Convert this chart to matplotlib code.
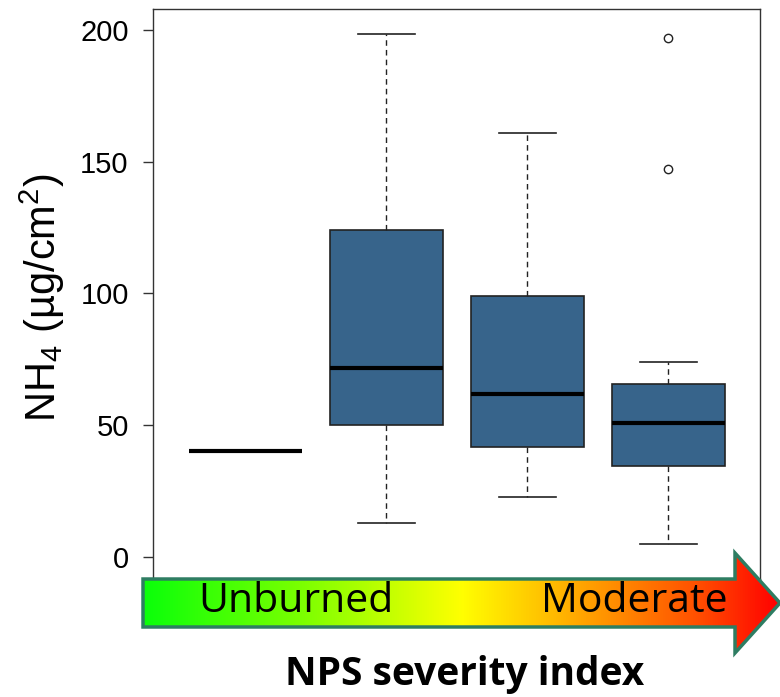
import matplotlib.pyplot as plt
import numpy as np
from matplotlib.colors import LinearSegmentedColormap
from matplotlib.patches import Polygon

plt.rcParams['mathtext.fontset'] = 'custom'
plt.rcParams['mathtext.rm'] = 'Liberation Sans'
plt.rcParams['mathtext.it'] = 'Liberation Sans:italic'

# Box statistics (NH4, ug/cm2)
positions = [1, 2, 3, 4]
whislo = [40, 12.7, 22.8, 4.9]
q1 = [40, 50.0, 41.7, 34.5]
med = [40, 71.5, 61.6, 50.7]
q3 = [40, 124.2, 98.8, 65.6]
whishi = [40, 198.5, 160.7, 73.9]
fliers = [[], [], [], [147.0, 196.8]]
yticks = [0, 50, 100, 150, 200]

fig = plt.figure(figsize=(7.8, 6.97), dpi=100)
W, H = 780, 697
ax = fig.add_axes([153 / W, 1 - 579 / H, (760 - 153) / W, (579 - 9) / H])

stats = []
for i in range(len(positions)):
    stats.append(dict(whislo=whislo[i], q1=q1[i], med=med[i], q3=q3[i],
                      whishi=whishi[i], fliers=fliers[i]))

ax.bxp(stats, positions=positions, widths=0.8, patch_artist=True,
       boxprops=dict(facecolor='#37648b', edgecolor='#222222', linewidth=1.2),
       medianprops=dict(color='black', linewidth=3),
       whiskerprops=dict(color='#222222', linestyle=(0, (4, 3)), linewidth=1),
       capprops=dict(color='#222222', linewidth=1.2),
       capwidths=0.4,
       flierprops=dict(marker='o', markerfacecolor='white', markeredgecolor='#222222',
                       markersize=6, markeredgewidth=1))

ax.set_xlim(1 - 0.656, 4 + 0.65)
ax.set_ylim(-8.46, 207.9)
ax.set_yticks(yticks)
ax.set_xticks([])
ax.tick_params(axis='y', length=7.5, width=1, pad=10, labelsize=21, colors='#333333',
               labelcolor='black')
for lab in ax.get_yticklabels():
    lab.set_family('Liberation Sans')
for s in ax.spines.values():
    s.set_color('#333333')
    s.set_linewidth(1)

fig.text(42 / W, 1 - 298 / H, 'NH$_4$ (µg/cm$^2$)', rotation=90,
         ha='center', va='center', fontsize=30, family='Liberation Sans')

# Gradient arrow drawn over the bottom of the plot
ov = fig.add_axes([0, 0, 1, 1])
ov.set_xlim(0, W)
ov.set_ylim(H, 0)
ov.axis('off')
cmap = LinearSegmentedColormap.from_list(
    'sev', [(0, '#0aff0a'), (0.25, '#7cff00'), (0.5, '#ffff00'),
            (0.7, '#ffa000'), (0.87, '#ff5000'), (1, '#ff0000')])
grad = np.linspace(0, 1, 512).reshape(1, -1)
img = ov.imshow(grad, cmap=cmap, extent=[143, 780, 653, 553], aspect='auto', zorder=2)
arrow_xy = [(143, 579), (735, 579), (735, 553), (780, 603), (735, 653), (735, 627), (143, 627)]
poly = Polygon(arrow_xy, closed=True, facecolor='none', edgecolor='#2e7d62', linewidth=2.5, zorder=3)
ov.add_patch(poly)
img.set_clip_path(poly)
ov.set_xlim(0, W)
ov.set_ylim(H, 0)

ov.text(296, 602, 'Unburned', ha='center', va='center', fontsize=29.5, family='Open Sans', zorder=4)
ov.text(634, 602, 'Moderate', ha='center', va='center', fontsize=29.5, family='Open Sans', zorder=4)
ov.text(465, 674, 'NPS severity index', ha='center', va='center', fontsize=28,
        fontweight='bold', family='Open Sans')

fig.savefig('out.png', dpi=100)
